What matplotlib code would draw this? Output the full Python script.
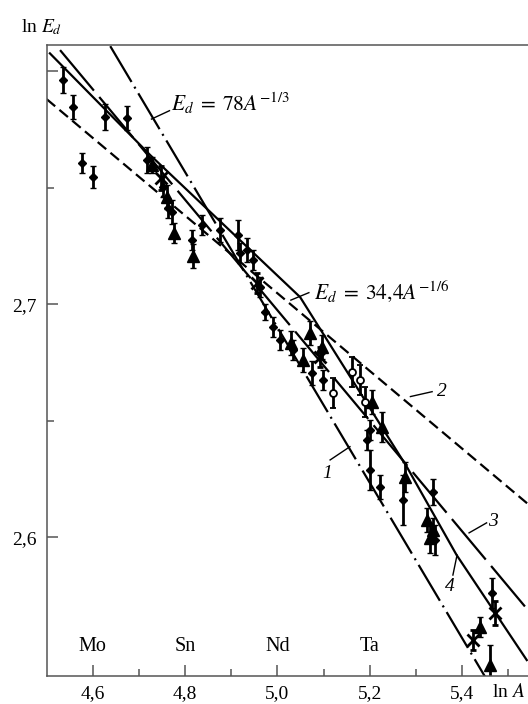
import numpy as np
import matplotlib
matplotlib.use('Agg')
import matplotlib.pyplot as plt

plt.rcParams['font.family'] = ['Liberation Serif', 'DejaVu Serif']
plt.rcParams['mathtext.fontset'] = 'stix'
plt.rcParams['lines.scale_dashes'] = False

# messpunkte: ln A, ln E_d, fehler, marker
lnA = [4.535, 4.557, 4.576, 4.600, 4.626, 4.674, 4.717, 4.728, 4.748, 4.752,
       4.761, 4.763, 4.771, 4.776, 4.817, 4.815, 4.836, 4.875, 4.914, 4.919,
       4.934, 4.947, 4.955, 4.962, 4.973, 4.990, 5.005, 5.029, 5.034, 5.055,
       5.070, 5.075, 5.096, 5.092, 5.099, 5.120, 5.161, 5.179, 5.189, 5.205,
       5.200, 5.226, 5.194, 5.200, 5.222, 5.276, 5.272, 5.337, 5.324, 5.337,
       5.330, 5.341, 5.464, 5.471, 5.423, 5.438, 5.460]
lnE = [2.7962, 2.7847, 2.7607, 2.7547, 2.7804, 2.7800, 2.7619, 2.7598, 2.7542, 2.7503,
       2.7461, 2.7413, 2.7396, 2.7306, 2.7207, 2.7276, 2.7340, 2.7319, 2.7297, 2.7220,
       2.7233, 2.7190, 2.7091, 2.7074, 2.6967, 2.6903, 2.6847, 2.6834, 2.6804, 2.6761,
       2.6877, 2.6705, 2.6817, 2.6774, 2.6675, 2.6619, 2.6710, 2.6675, 2.6581, 2.6581,
       2.6461, 2.6473, 2.6418, 2.6289, 2.6216, 2.6259, 2.6160, 2.6194, 2.6074, 2.6031,
       2.5997, 2.5988, 2.5761, 2.5675, 2.5559, 2.5615, 2.5452]
fehler = [0.0056, 0.0052, 0.0043, 0.0047, 0.0056, 0.0052, 0.0056, 0.0034, 0.0052, 0.0043,
          0.0052, 0.0043, 0.0052, 0.0043, 0.0052, 0.0043, 0.0043, 0.0052, 0.0064, 0.0043,
          0.0052, 0.0043, 0.0043, 0.0043, 0.0034, 0.0043, 0.0043, 0.0052, 0.0043, 0.0052,
          0.0052, 0.0052, 0.0052, 0.0043, 0.0043, 0.0064, 0.0064, 0.0064, 0.0064, 0.0052,
          0.0043, 0.0064, 0.0043, 0.0086, 0.0052, 0.0064, 0.0107, 0.0056, 0.0052, 0.0052,
          0.0064, 0.0064, 0.0064, 0.0052, 0.0043, 0.0043, 0.0086]
marker = ['D', 'D', 'D', 'D', 'D', 'D', 'D', '^', 'x', 'D',
          '^', 'D', 'D', '^', '^', 'D', 'D', 'D', 'D', 'D',
          'D', 'D', 'x', 'D', 'D', 'D', 'D', '^', 'D', '^',
          '^', 'D', '^', 'x', 'D', 'o', 'o', 'o', 'o', '^',
          'D', '^', 'D', 'D', 'D', '^', 'D', 'D', '^', '^',
          '^', 'D', 'D', 'x', 'x', '^', '^']

# kurve 4 (durchgezogen), stützstellen
kurve4_A = [4.507, 4.724, 5.049, 5.280, 5.388, 5.540]
kurve4_E = [2.8077, 2.7641, 2.7031, 2.6303, 2.5924, 2.5473]

# gerade 3 (lange striche)
gerade3_A = [4.529, 5.542]
gerade3_E = [2.8091, 2.5689]

# theoretische kurven
koeff1, expo1 = 78.0, -1 / 3     # kurve 1
koeff2, expo2 = 34.4, -1 / 6     # kurve 2

elemente = ['Mo', 'Sn', 'Nd', 'Ta']
elemente_A = [4.6, 4.8, 5.0, 5.2]

fig = plt.figure(figsize=(5.28, 7.04), dpi=100)
ax = fig.add_axes([0.0884, 0.0402, 0.918, 0.8959])
ax.set_xlim(4.5, 5.55)
ax.set_ylim(2.5406, 2.8113)

x = np.linspace(4.5, 5.55, 200)
ax.plot(x, np.log(koeff1) + expo1 * x, color='k', lw=1.6,
        linestyle=(0, (30, 4, 1.5, 4)))
ax.plot(x, np.log(koeff2) + expo2 * x, color='k', lw=1.6,
        linestyle=(0, (8, 4)))
ax.plot(gerade3_A, gerade3_E, color='k', lw=1.6, linestyle=(0, (38, 6)))
ax.plot(kurve4_A, kurve4_E, color='k', lw=1.6)

# messpunkte mit fehlerbalken
for a, e, f, m in zip(lnA, lnE, fehler, marker):
    if m == 'o':
        ax.errorbar(a, e, yerr=f, fmt='o', ms=5, mfc='white', mec='k', mew=1.3,
                    ecolor='k', elinewidth=2, capsize=2)
    elif m == 'x':
        ax.errorbar(a, e, yerr=f, fmt='x', ms=8, mec='k', mew=2,
                    ecolor='k', elinewidth=2, capsize=2)
    elif m == '^':
        ax.errorbar(a, e, yerr=f, fmt='^', ms=8, mfc='k', mec='k',
                    ecolor='k', elinewidth=2, capsize=2)
    else:
        ax.errorbar(a, e, yerr=f, fmt='D', ms=4, mfc='k', mec='k',
                    ecolor='k', elinewidth=2, capsize=2)

# beschriftungen
ax.text(4.770, 2.7864, r'$E_d\;=\;78A^{-1/3}$', fontsize=15.5, va='center', ha='left')
ax.plot([4.727, 4.766], [2.7795, 2.7831], color='k', lw=1)
ax.text(5.080, 2.7054, r'$E_d\;=\;34{,}4A^{-1/6}$', fontsize=15.5, va='center', ha='left')
ax.plot([5.029, 5.068], [2.7018, 2.7050], color='k', lw=1)

ax.text(5.357, 2.6625, '2', fontsize=14, style='italic', va='center', ha='center')
ax.plot([5.288, 5.335], [2.6604, 2.6625], color='k', lw=1)
ax.text(5.107, 2.6272, '1', fontsize=14, style='italic', va='center', ha='center')
ax.plot([5.114, 5.157], [2.6332, 2.6389], color='k', lw=1)
ax.text(5.467, 2.6067, '3', fontsize=14, style='italic', va='center', ha='center')
ax.plot([5.415, 5.453], [2.6019, 2.6062], color='k', lw=1)
ax.text(5.373, 2.5788, '4', fontsize=14, style='italic', va='center', ha='center')
ax.plot([5.380, 5.389], [2.5838, 2.5924], color='k', lw=1)

for name, a in zip(elemente, elemente_A):
    ax.text(a, 2.553, name, fontsize=14.5, va='center', ha='center')

# achsen
for s in ['left', 'bottom', 'top']:
    ax.spines[s].set_color('#555555')
    ax.spines[s].set_linewidth(1.1)
ax.spines['right'].set_visible(False)

ax.set_xticks([4.6, 4.8, 5.0, 5.2, 5.4])
ax.set_xticklabels(['4,6', '4,8', '5,0', '5,2', '5,4'])
ax.set_xticks([4.7, 4.9, 5.1, 5.3, 5.5], minor=True)
ax.set_yticks([2.6, 2.7, 2.8])
ax.set_yticklabels(['2,6', '2,7', ''])
ax.set_yticks([2.65, 2.75], minor=True)
ax.tick_params(which='major', direction='in', length=8, width=1.1, color='#555555',
               labelsize=14, pad=7)
ax.tick_params(which='minor', direction='in', length=5, width=1.1, color='#555555')

fig.text(509 / 528, 1 - 692 / 704, r'ln $A$', fontsize=14, ha='center', va='center')
fig.text(42 / 528, 1 - 27 / 704, r'ln $E_d$', fontsize=14, ha='center', va='center')

fig.savefig('out.png', dpi=100)
